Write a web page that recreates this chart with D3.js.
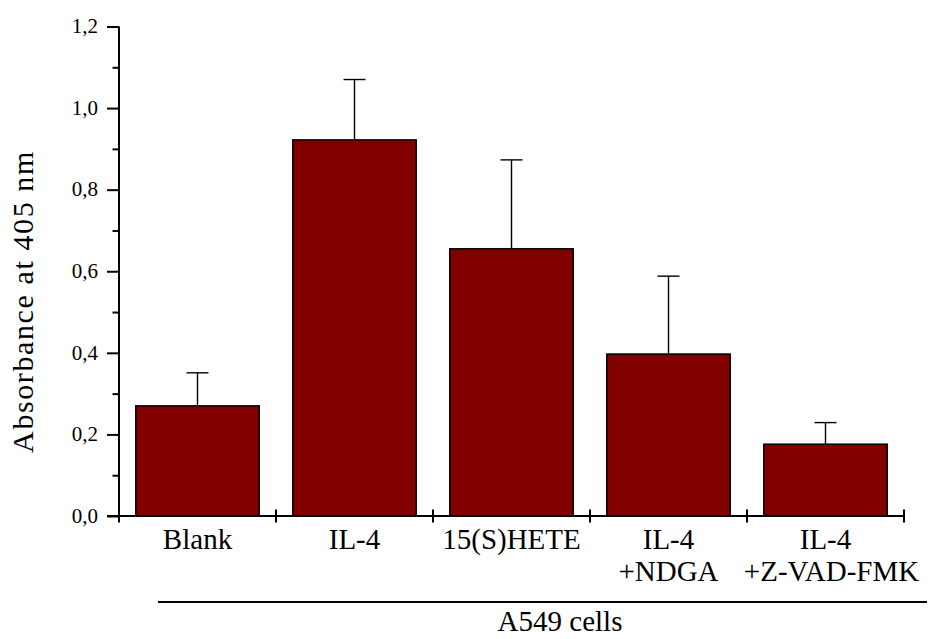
<!DOCTYPE html>
<html><head><meta charset="utf-8">
<script src="https://cdn.jsdelivr.net/npm/d3@7"></script>
<style>#c text, #c tspan { font-family: "Liberation Serif", "Times New Roman", Times, serif !important; }</style>
</head><body style="margin:0;background:#fff"><svg id="c" width="928" height="639" style="display:block"></svg>
<script>
const categories = ["Blank", "IL-4", "15(S)HETE", "IL-4\n+NDGA", "IL-4\n+Z-VAD-FMK"];
const values = [0.270, 0.922, 0.655, 0.397, 0.176];
const errors = [0.081, 0.148, 0.218, 0.191, 0.053];
const majorTicks = [0, 0.2, 0.4, 0.6, 0.8, 1.0, 1.2];
const minorTicks = [0.1, 0.3, 0.5, 0.7, 0.9, 1.1];
const yTitle = "Absorbance at 405 nm";
const groupLabel = "A549 cells";

const FONT = '"Liberation Serif", "Times New Roman", Times, serif';
const svg = d3.select("#c");
const x0 = 119, x1 = 904, yTop = 26.5, yBot = 516;
const x = d3.scaleBand().domain(categories).range([x0, x1]).padding(0);
const y = d3.scaleLinear().domain([0, 1.2]).range([yBot, yTop]);
const barW = x.bandwidth() * 0.786;

// y title
svg.append("text").attr("transform", "translate(33,301.5) rotate(-90)")
  .attr("text-anchor", "middle").style("font-family", FONT).style("font-size", "30px")
  .style("letter-spacing", "1.6px").text(yTitle);

// x labels
categories.forEach((c, i) => {
  const cx = x(c) + x.bandwidth() / 2;
  const t = svg.append("text").attr("text-anchor", "middle")
    .attr("x", cx).attr("y", 549).style("font-family", FONT).style("font-size", "29px");
  c.split("\n").forEach((line, j) => {
    t.append("tspan").attr("x", cx + (j > 0 && i === 4 ? 6 : 0)).attr("dy", j === 0 ? 0 : 32).text(line);
  });
});

// group line & label
svg.append("text").attr("x", 560).attr("y", 631).attr("text-anchor", "middle")
  .style("font-family", FONT).style("font-size", "29px").text(groupLabel);
svg.append("line").attr("x1", 158).attr("x2", 927).attr("y1", 602).attr("y2", 602)
  .attr("stroke", "#000").attr("stroke-width", 2);

// bars
svg.append("g").selectAll("rect").data(categories).join("rect")
  .attr("x", d => x(d) + (x.bandwidth() - barW) / 2)
  .attr("y", (d, i) => y(values[i]))
  .attr("width", barW)
  .attr("height", (d, i) => y(0) - y(values[i]))
  .attr("fill", "#800000").attr("stroke", "#000").attr("stroke-width", 1.5);

// error bars (upper only)
const eg = svg.append("g").attr("stroke", "#000").attr("stroke-width", 1.4);
categories.forEach((c, i) => {
  const cx = x(c) + x.bandwidth() / 2;
  eg.append("line").attr("x1", cx).attr("x2", cx).attr("y1", y(values[i])).attr("y2", y(values[i] + errors[i]));
  eg.append("line").attr("x1", cx - 11).attr("x2", cx + 11).attr("y1", y(values[i] + errors[i])).attr("y2", y(values[i] + errors[i]));
});

// y axis
const ya = svg.append("g").attr("transform", `translate(${x0},0)`)
  .call(d3.axisLeft(y).tickValues(majorTicks).tickSize(12).tickPadding(9)
    .tickFormat(d => d3.format(".1f")(d).replace(".", ",")));
ya.attr("font-family", null);
ya.select(".domain").remove();
ya.selectAll(".tick line").attr("stroke-width", 2);
ya.selectAll(".tick text").attr("dy", "0.3em").style("font-family", FONT).style("font-size", "21px");
const ym = svg.append("g").attr("transform", `translate(${x0},0)`)
  .call(d3.axisLeft(y).tickValues(minorTicks).tickSize(6.5).tickFormat(""));
ym.select(".domain").remove();
ym.selectAll(".tick line").attr("stroke-width", 2);
svg.append("line").attr("x1", x0).attr("x2", x0).attr("y1", yTop).attr("y2", yBot + 1)
  .attr("stroke", "#000").attr("stroke-width", 2);

// x axis
svg.append("line").attr("x1", x0 - 12).attr("x2", x1).attr("y1", yBot).attr("y2", yBot)
  .attr("stroke", "#000").attr("stroke-width", 2);
const bounds = categories.map(c => x(c)).concat([x1]);
svg.append("g").selectAll("line").data(bounds).join("line")
  .attr("x1", d => d).attr("x2", d => d).attr("y1", yBot - 6.5).attr("y2", yBot + 6.5)
  .attr("stroke", "#000").attr("stroke-width", 2);
</script></body></html>
